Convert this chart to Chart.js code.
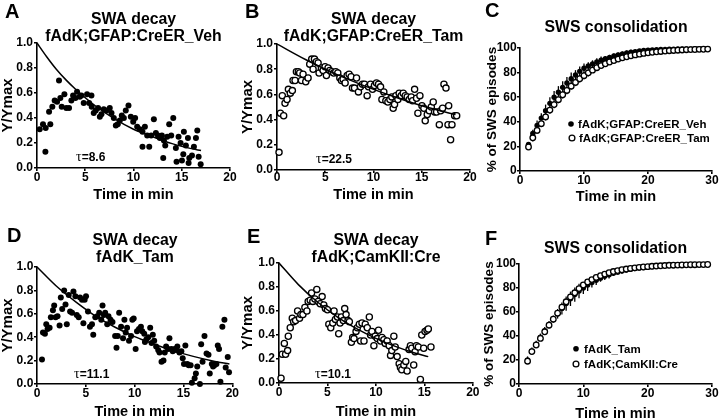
<!DOCTYPE html>
<html>
<head>
<meta charset="utf-8">
<script src="https://cdn.jsdelivr.net/npm/chart.js@4.4.1/dist/chart.umd.min.js"></script>
<style>
html, body { margin: 0; padding: 0; background: #fff; }
#fig { position: relative; width: 720px; height: 419px; overflow: hidden; background: #fff; }
#fig canvas { position: absolute; }
</style>
</head>
<body>
<div id="fig"></div>
<script>
// ---- A: fAdK;GFAP:CreER_Veh ----
var aTime = [0.28,0.62,0.90,1.38,0.87,1.25,1.59,1.83,2.08,2.28,2.42,2.56,2.84,3.04,3.32,3.56,3.74,3.98,4.15,4.43,
  4.60,4.84,5.19,5.64,5.40,5.67,5.88,6.09,6.33,6.51,6.68,6.92,7.20,7.54,7.72,7.96,8.17,8.37,8.58,8.79,
  9.00,9.20,9.48,9.72,9.97,10.17,10.38,10.66,10.93,11.18,11.42,10.93,11.63,11.83,12.11,12.32,12.53,12.73,12.94,13.15,
  13.29,13.49,13.70,13.91,14.12,14.39,14.67,14.88,13.08,14.46,15.02,15.16,15.43,15.64,15.22,15.78,16.06,16.26,16.47,16.61,
  16.75,16.96,15.71];
var aSwa = [0.31,0.35,0.32,0.35,0.13,0.45,0.49,0.54,0.53,0.70,0.56,0.49,0.59,0.48,0.48,0.54,0.58,0.56,0.61,0.57,
  0.58,0.52,0.59,0.58,0.52,0.49,0.44,0.46,0.48,0.41,0.43,0.47,0.46,0.48,0.44,0.40,0.34,0.35,0.38,0.42,
  0.40,0.46,0.50,0.41,0.37,0.40,0.33,0.31,0.29,0.33,0.26,0.17,0.17,0.26,0.39,0.28,0.26,0.24,0.26,0.22,
  0.18,0.25,0.35,0.26,0.40,0.16,0.25,0.20,0.08,0.05,0.06,0.11,0.18,0.24,0.29,0.08,0.10,0.17,0.24,0.30,
  0.09,0.03,0.04];
var aFitTime = [0, 1, 2, 3, 4, 6, 8, 10, 12, 14, 16, 17];
var aFit = [1.0, 0.89, 0.79, 0.705, 0.63, 0.50, 0.395, 0.31, 0.25, 0.195, 0.155, 0.14];

// ---- B: fAdK;GFAP:CreER_Tam ----
var bTime = [0.21,0.35,0.55,0.69,0.83,1.04,1.18,1.38,1.59,1.66,1.87,2.01,2.21,2.35,2.53,2.70,2.98,3.22,3.39,3.60,
  3.74,3.88,4.08,4.26,4.36,4.60,4.78,4.98,5.12,5.29,5.47,5.67,5.88,6.09,6.30,6.51,6.68,6.85,7.06,7.27,
  7.47,7.68,7.82,8.03,8.24,8.44,8.65,8.86,9.07,9.34,9.48,9.69,9.90,10.10,10.31,10.52,10.73,10.87,11.07,11.28,
  11.49,11.70,11.90,12.04,12.18,12.32,12.53,12.66,12.87,13.08,13.29,13.49,13.70,13.91,14.05,14.26,14.46,14.60,14.81,15.02,
  15.22,15.36,15.57,15.78,15.99,16.19,16.33,16.54,16.82,16.96,17.16,17.30,17.51,17.79,17.72,17.99,18.13,18.41,18.62];
var bSwa = [0.14,0.45,0.59,0.43,0.53,0.56,0.64,0.61,0.63,0.71,0.71,0.78,0.78,0.77,0.71,0.76,0.70,0.73,0.84,0.88,
  0.80,0.88,0.86,0.85,0.77,0.81,0.79,0.82,0.75,0.81,0.79,0.78,0.77,0.78,0.77,0.73,0.71,0.72,0.69,0.75,
  0.76,0.74,0.65,0.65,0.73,0.62,0.66,0.68,0.68,0.59,0.66,0.68,0.64,0.67,0.69,0.68,0.66,0.56,0.62,0.55,
  0.54,0.56,0.58,0.49,0.52,0.59,0.56,0.61,0.59,0.61,0.59,0.58,0.56,0.58,0.55,0.64,0.57,0.45,0.59,0.51,
  0.49,0.39,0.44,0.47,0.50,0.54,0.46,0.46,0.36,0.47,0.49,0.68,0.65,0.51,0.36,0.24,0.36,0.43,0.43];
var bFitTime = [0, 3, 6, 9, 12, 15, 18.5];
var bFit = [1.0, 0.875, 0.765, 0.67, 0.585, 0.51, 0.44];

// ---- D: fAdK_Tam ----
var dTime = [0.51,0.61,0.81,0.95,1.08,1.29,1.42,1.63,1.76,1.90,2.10,2.31,2.44,2.58,2.78,2.92,3.05,3.25,3.39,3.59,
  3.73,3.93,4.07,4.27,4.41,4.61,4.75,4.88,5.02,5.22,5.42,5.63,5.76,5.97,6.17,6.37,6.58,6.71,6.85,6.98,
  7.19,7.32,7.53,7.73,8.00,8.14,8.27,8.41,8.61,8.81,8.95,9.08,9.22,9.42,9.63,9.76,9.90,10.10,10.24,10.44,
  10.64,10.78,10.98,11.05,11.19,11.39,11.59,11.73,11.86,12.00,12.20,12.41,12.54,12.75,12.95,13.08,13.22,13.42,13.56,13.76,
  13.90,14.10,14.24,14.37,14.58,14.78,14.92,15.05,15.19,15.39,15.53,15.73,15.86,16.14,16.27,16.41,16.68,16.81,16.95,17.15,
  17.36,17.56,17.69,17.90,18.03,18.17,18.37,18.51,18.64,18.78,18.98,19.19,19.32,19.53,19.66];
var dSwa = [0.21,0.44,0.43,0.51,0.47,0.48,0.57,0.63,0.67,0.57,0.58,0.50,0.74,0.64,0.80,0.68,0.51,0.76,0.62,0.61,
  0.79,0.75,0.59,0.57,0.74,0.72,0.52,0.72,0.75,0.62,0.49,0.51,0.42,0.57,0.58,0.61,0.55,0.67,0.59,0.61,
  0.51,0.58,0.55,0.53,0.41,0.31,0.41,0.61,0.49,0.39,0.55,0.44,0.48,0.37,0.41,0.55,0.56,0.30,0.45,0.47,
  0.49,0.45,0.43,0.36,0.38,0.40,0.48,0.35,0.42,0.37,0.32,0.29,0.27,0.19,0.20,0.27,0.32,0.30,0.39,0.30,
  0.28,0.30,0.29,0.32,0.27,0.28,0.22,0.17,0.33,0.17,0.16,0.16,0.01,0.05,0.09,0.15,0.00,0.34,0.19,0.41,
  0.26,0.25,0.09,0.17,0.15,0.16,0.17,0.33,0.30,0.02,0.49,0.55,0.14,0.23,0.10];
var dFitTime = [0, 2, 4, 6, 8, 10, 12, 14, 16, 18, 19.7];
var dFit = [1.0, 0.835, 0.70, 0.58, 0.485, 0.405, 0.34, 0.283, 0.236, 0.197, 0.17];

// ---- E: fAdK;CamKII:Cre ----
var eTime = [0.21,0.34,0.55,0.68,0.89,0.96,1.16,1.37,1.51,1.71,1.92,2.12,2.26,2.47,2.67,2.88,3.01,3.22,3.36,3.49,
  3.70,3.90,4.04,4.25,4.45,4.62,4.79,5.00,5.14,5.34,5.55,5.68,5.82,6.03,6.16,6.30,6.44,6.64,6.78,6.92,
  7.12,7.26,7.47,7.60,7.74,7.95,8.08,8.29,8.42,8.56,8.77,8.90,9.11,9.32,9.45,9.59,9.79,9.93,10.14,10.27,
  10.48,10.62,10.82,10.96,11.16,11.37,11.51,11.64,11.85,11.99,12.19,12.40,12.53,12.67,12.88,13.08,13.22,13.42,13.56,13.70,
  13.90,14.04,14.18,14.38,14.59,14.73,14.93,15.07,15.27,15.41,15.68];
var eSwa = [0.04,0.24,0.33,0.24,0.27,0.39,0.46,0.54,0.51,0.52,0.60,0.54,0.57,0.57,0.63,0.60,0.68,0.69,0.75,0.68,
  0.70,0.78,0.68,0.66,0.72,0.65,0.62,0.61,0.49,0.46,0.50,0.60,0.53,0.55,0.41,0.50,0.55,0.52,0.62,0.57,
  0.52,0.51,0.34,0.38,0.37,0.43,0.46,0.49,0.35,0.50,0.35,0.49,0.46,0.55,0.40,0.43,0.31,0.39,0.37,0.44,
  0.35,0.38,0.36,0.33,0.35,0.31,0.23,0.27,0.39,0.30,0.22,0.16,0.13,0.11,0.15,0.18,0.10,0.28,0.31,0.29,
  0.15,0.26,0.31,0.30,0.03,0.40,0.29,0.43,0.44,0.45,0.30];
var eFitTime = [0, 2, 4, 6, 8, 10, 12, 14, 15.4];
var eFit = [1.0, 0.82, 0.673, 0.552, 0.453, 0.372, 0.305, 0.25, 0.22];

// ---- C / F: SWS consolidation (% of SWS episodes) ----
var swsTime = [1.33,2,2.67,3.33,4,4.67,5.33,6,6.67,7.33,8,8.67,9.33,10,10.67,11.33,12,12.67,13.33,14,
  14.67,15.33,16,16.67,17.33,18,18.67,19.33,20,20.67,21.33,22,22.67,23.33,24,24.67,25.33,26,26.67,27.33,
  28,28.67,29.33];
var cVeh = [21.5,30.5,37,43,49,55,60,64,68,71.5,75,78,81,83.5,85.4,87,88.6,90,91.3,92.4,
  93.5,94.3,95.1,95.9,96.5,97,97.6,98,98.3,98.5,98.7,98.8,98.9,99,99.1,99.2,99.2,99.3,99.3,99.4,
  99.4,99.5,99.5];
var cVehErr = [2,3,4,4,5,5,5,5,5,5,5,4,4,4,3,3,3,3,2,2,2,2,2,2,2,1.5,1.5,1.5,1.5,1,1,1,1,1,1,1,1,1,1,1,1,1,1];
var cTam = [19.5,27,33,38.5,44,49.5,54,58,62,65.5,69,72,75,77.5,79.8,82,84,85.7,87.2,88.6,
  89.8,91,92,92.9,93.7,94.4,95,95.6,96.1,96.5,96.9,97.2,97.5,97.8,98,98.2,98.4,98.6,98.7,98.8,
  98.9,99,99.1];
var cTamErr = [2,3,3,3,3,3,3,3,3,3,3,3,3,3,3,2,2,2,2,2,2,2,2,2,1.5,1.5,1.5,1.5,1,1,1,1,1,1,1,1,1,1,1,1,1,1,1];
var fTam = [20,27.5,33,39,44.5,49.5,54,58.5,63,67,71,74.5,77.5,80,82.5,84.5,86.5,88.2,89.7,91,
  92.2,93.2,94.1,94.9,95.6,96.2,96.7,97.1,97.5,97.8,98.1,98.3,98.5,98.7,98.9,99,99.1,99.2,99.3,99.4,
  99.5,99.5,99.6];
var fTamErr = [3,3,3,3,3,3,3,4,5,6,6,6,6,5,5,4,4,3,3,3,2,2,2,2,2,2,1.5,1.5,1.5,1,1,1,1,1,1,1,1,1,1,1,1,1,1];
var fCam = [19,27,32.5,38,43.5,49,54,59,64,68.5,72.5,76,79.5,82.5,85,87,88.8,90.3,91.6,92.7,
  93.7,94.5,95.2,95.8,96.3,96.8,97.2,97.5,97.8,98.1,98.3,98.5,98.7,98.9,99,99.1,99.2,99.3,99.4,99.4,
  99.5,99.5,99.6];
var fCamErr = [2,2,2,2,2,2,2,2,2,2,2,2,2,2,2,2,2,1.5,1.5,1.5,1.5,1.5,1.5,1,1,1,1,1,1,1,1,1,1,1,1,1,1,1,1,1,1,1,1];

var SANS = '"Liberation Sans", Arial, sans-serif';
Chart.defaults.font.family = SANS;
Chart.defaults.color = '#000';

var fig = document.getElementById('fig');

function pts(xs, ys) {
    return xs.map(function (x, i) { return { x: x, y: ys[i] }; });
}

function filled(xs, ys, r, err) {
    return { data: pts(xs, ys), errors: err, showLine: false, pointRadius: r, pointHoverRadius: r,
        pointBackgroundColor: '#000', pointBorderColor: '#000', pointBorderWidth: 0, clip: false, order: 2 };
}

function open(xs, ys, r, err) {
    return { data: pts(xs, ys), errors: err, showLine: false, pointRadius: r, pointHoverRadius: r,
        pointBackgroundColor: '#fff', pointBorderColor: '#000', pointBorderWidth: 1.3, clip: false, order: 1 };
}

function fit(xs, ys) {
    return { data: pts(xs, ys), showLine: true, borderColor: '#000', borderWidth: 1.5, pointRadius: 0,
        cubicInterpolationMode: 'monotone', fill: false, order: 0 };
}

function axis(min, max, step, title, o) {
    return {
        type: 'linear', min: min, max: max,
        border: { color: '#000', width: 1.6 },
        grid: { drawOnChartArea: false, drawTicks: true, tickLength: 3, color: '#000', lineWidth: 1.6 },
        ticks: { stepSize: step, autoSkip: false, maxRotation: 0, padding: o.tickPad, color: '#000',
            font: { size: 12, weight: 'bold', lineHeight: 1 }, callback: o.fmt },
        title: { display: true, text: title, color: '#000',
            font: { size: o.titleSize, weight: 'bold', lineHeight: 1 }, padding: o.titlePad },
        afterFit: function (s) {
            if (o.width) s.width = o.width;
            if (o.height) s.height = o.height;
        }
    };
}

function panel(box, area, datasets, xs, ys, texts, marks) {
    var cv = document.createElement('canvas');
    cv.width = box.w;
    cv.height = box.h;
    cv.style.left = box.x + 'px';
    cv.style.top = box.y + 'px';
    fig.appendChild(cv);

    var errorBars = {
        id: 'errorBars',
        beforeDatasetsDraw: function (chart) {
            var ctx = chart.ctx, sx = chart.scales.x, sy = chart.scales.y;
            ctx.save();
            ctx.strokeStyle = '#000';
            ctx.lineWidth = 1.3;
            chart.data.datasets.forEach(function (ds) {
                if (!ds.errors) return;
                ds.data.forEach(function (p, i) {
                    var px = sx.getPixelForValue(p.x);
                    ctx.beginPath();
                    ctx.moveTo(px, sy.getPixelForValue(p.y + ds.errors[i]));
                    ctx.lineTo(px, sy.getPixelForValue(p.y - ds.errors[i]));
                    ctx.stroke();
                });
            });
            ctx.restore();
        }
    };

    var notes = {
        id: 'notes',
        afterDraw: function (chart) {
            var ctx = chart.ctx;
            ctx.save();
            ctx.textBaseline = 'alphabetic';
            texts.forEach(function (t) {
                ctx.fillStyle = '#000';
                var x = t.x - box.x, y = t.y - box.y;
                if (t.parts) {
                    ctx.textAlign = 'left';
                    t.parts.forEach(function (p) {
                        ctx.font = p.font;
                        ctx.fillText(p.text, x, y);
                        x += ctx.measureText(p.text).width;
                    });
                } else {
                    ctx.font = t.font;
                    ctx.textAlign = t.align || 'left';
                    ctx.fillText(t.text, x, y);
                }
            });
            (marks || []).forEach(function (m) {
                ctx.beginPath();
                ctx.arc(m.x - box.x, m.y - box.y, m.r, 0, Math.PI * 2);
                if (m.open) {
                    ctx.fillStyle = '#fff';
                    ctx.fill();
                    ctx.lineWidth = 1.3;
                    ctx.strokeStyle = '#000';
                    ctx.stroke();
                } else {
                    ctx.fillStyle = '#000';
                    ctx.fill();
                }
            });
            ctx.restore();
        }
    };

    xs.height = box.y + box.h - area.b;
    ys.width = area.l - box.x;

    return new Chart(cv, {
        type: 'scatter',
        data: { datasets: datasets },
        options: {
            responsive: false,
            animation: false,
            devicePixelRatio: 1,
            events: [],
            layout: { autoPadding: false,
                padding: { left: 0, top: area.t - box.y, right: box.x + box.w - area.r, bottom: 0 } },
            plugins: { legend: { display: false }, tooltip: { enabled: false } },
            scales: {
                x: axis(xs.min, xs.max, xs.step, 'Time in min', xs),
                y: axis(ys.min, ys.max, ys.step, ys.title, ys)
            }
        },
        plugins: [errorBars, notes]
    });
}

var fmt1 = function (v) { return v.toFixed(1); };
var fmt0 = function (v) { return String(Math.round(v)); };
var LETTER = 'bold 20px ' + SANS;
var TITLE = 'bold 15.8px ' + SANS;
var LEG = 'bold 11.5px ' + SANS;
function tau(x, y, val) {
    return { x: x, y: y, parts: [{ text: '\u03c4', font: '14px "Liberation Serif", serif' },
        { text: '=' + val, font: 'bold 12px ' + SANS }] };
}

// A
panel({ x: 0, y: 0, w: 240, h: 210 }, { l: 37, t: 43, r: 230, b: 168 },
    [fit(aFitTime, aFit), filled(aTime, aSwa, 3)],
    { min: 0, max: 20, step: 5, tickPad: 0.5, titleSize: 14.5, titlePad: { top: 0, bottom: 7.5 }, fmt: fmt0 },
    { min: 0, max: 1, step: 0.2, title: 'Y/Ymax', tickPad: 1, titleSize: 15, titlePad: 0, fmt: fmt1 },
    [{ text: 'A', x: 5, y: 18, font: LETTER },
     { text: 'SWA decay', x: 133.5, y: 24, font: TITLE, align: 'center' },
     { text: 'fAdK;GFAP:CreER_Veh', x: 133.5, y: 40.5, font: TITLE, align: 'center' },
     tau(76, 161, '8.6')]);

// B
panel({ x: 240, y: 0, w: 240, h: 210 }, { l: 277, t: 44, r: 470, b: 170 },
    [fit(bFitTime, bFit), open(bTime, bSwa, 3.1)],
    { min: 0, max: 20, step: 5, tickPad: -1.5, titleSize: 14.5, titlePad: { top: 0, bottom: 7.5 }, fmt: fmt0 },
    { min: 0, max: 1, step: 0.2, title: 'Y/Ymax', tickPad: 1, titleSize: 15, titlePad: 0, fmt: fmt1 },
    [{ text: 'B', x: 245, y: 18, font: LETTER },
     { text: 'SWA decay', x: 373.5, y: 24, font: TITLE, align: 'center' },
     { text: 'fAdK;GFAP:CreER_Tam', x: 373.5, y: 40.5, font: TITLE, align: 'center' },
     tau(316, 163, '22.5')]);

// C
panel({ x: 480, y: 0, w: 240, h: 210 }, { l: 520, t: 48, r: 712, b: 171 },
    [open(swsTime, cTam, 2.8, cTamErr), filled(swsTime, cVeh, 2.7, cVehErr)],
    { min: 0, max: 30, step: 10, tickPad: 1, titleSize: 14.5, titlePad: { top: 0, bottom: 5.5 }, fmt: fmt0 },
    { min: 0, max: 100, step: 20, title: '% of SWS episodes', tickPad: 0.3, titleSize: 13.5, titlePad: 5.7, fmt: fmt0 },
    [{ text: 'C', x: 485, y: 17, font: LETTER },
     { text: 'SWS consolidation', x: 616, y: 32, font: TITLE, align: 'center' },
     { text: 'fAdK;GFAP:CreER_Veh', x: 578, y: 128.3, font: LEG },
     { text: 'fAdK;GFAP:CreER_Tam', x: 579, y: 142.3, font: LEG }],
    [{ x: 571, y: 124, r: 2.8 }, { x: 572, y: 138, r: 2.9, open: true }]);

// D
panel({ x: 0, y: 210, w: 240, h: 209 }, { l: 37, t: 267, r: 233, b: 384 },
    [fit(dFitTime, dFit), filled(dTime, dSwa, 3)],
    { min: 0, max: 20, step: 5, tickPad: 1, titleSize: 14.5, titlePad: { top: 0, bottom: -0.5 }, fmt: fmt0 },
    { min: 0, max: 1, step: 0.2, title: 'Y/Ymax', tickPad: 0.7, titleSize: 15, titlePad: 0.5, fmt: fmt1 },
    [{ text: 'D', x: 7, y: 242, font: LETTER },
     { text: 'SWA decay', x: 135, y: 245, font: TITLE, align: 'center' },
     { text: 'fAdK_Tam', x: 135, y: 262, font: TITLE, align: 'center' },
     tau(74, 378, '11.1')]);

// E
panel({ x: 240, y: 210, w: 240, h: 209 }, { l: 279, t: 263, r: 473, b: 383 },
    [fit(eFitTime, eFit), open(eTime, eSwa, 3.1)],
    { min: 0, max: 20, step: 5, tickPad: 0.5, titleSize: 14.5, titlePad: { top: 0, bottom: -0.5 }, fmt: fmt0 },
    { min: 0, max: 1, step: 0.2, title: 'Y/Ymax', tickPad: 1, titleSize: 15, titlePad: 0.8, fmt: fmt1 },
    [{ text: 'E', x: 247, y: 243, font: LETTER },
     { text: 'SWA decay', x: 376, y: 245, font: TITLE, align: 'center' },
     { text: 'fAdK;CamKII:Cre', x: 376, y: 262, font: TITLE, align: 'center' },
     tau(315, 378, '10.1')]);

// F
panel({ x: 480, y: 210, w: 240, h: 209 }, { l: 519, t: 264, r: 712, b: 384 },
    [filled(swsTime, fTam, 2.7, fTamErr), open(swsTime, fCam, 2.8, fCamErr)],
    { min: 0, max: 30, step: 10, tickPad: 1, titleSize: 14.5, titlePad: { top: 0, bottom: -2 }, fmt: fmt0 },
    { min: 0, max: 100, step: 20, title: '% of SWS episodes', tickPad: 0, titleSize: 13.5, titlePad: 2.7, fmt: fmt0 },
    [{ text: 'F', x: 485, y: 245, font: LETTER },
     { text: 'SWS consolidation', x: 615.5, y: 253, font: TITLE, align: 'center' },
     { text: 'fAdK_Tam', x: 584, y: 353, font: LEG },
     { text: 'fAdK;CamKII:Cre', x: 584, y: 368.3, font: LEG }],
    [{ x: 576, y: 348.7, r: 2.8 }, { x: 576, y: 364, r: 2.9, open: true }]);
</script>
</body>
</html>
